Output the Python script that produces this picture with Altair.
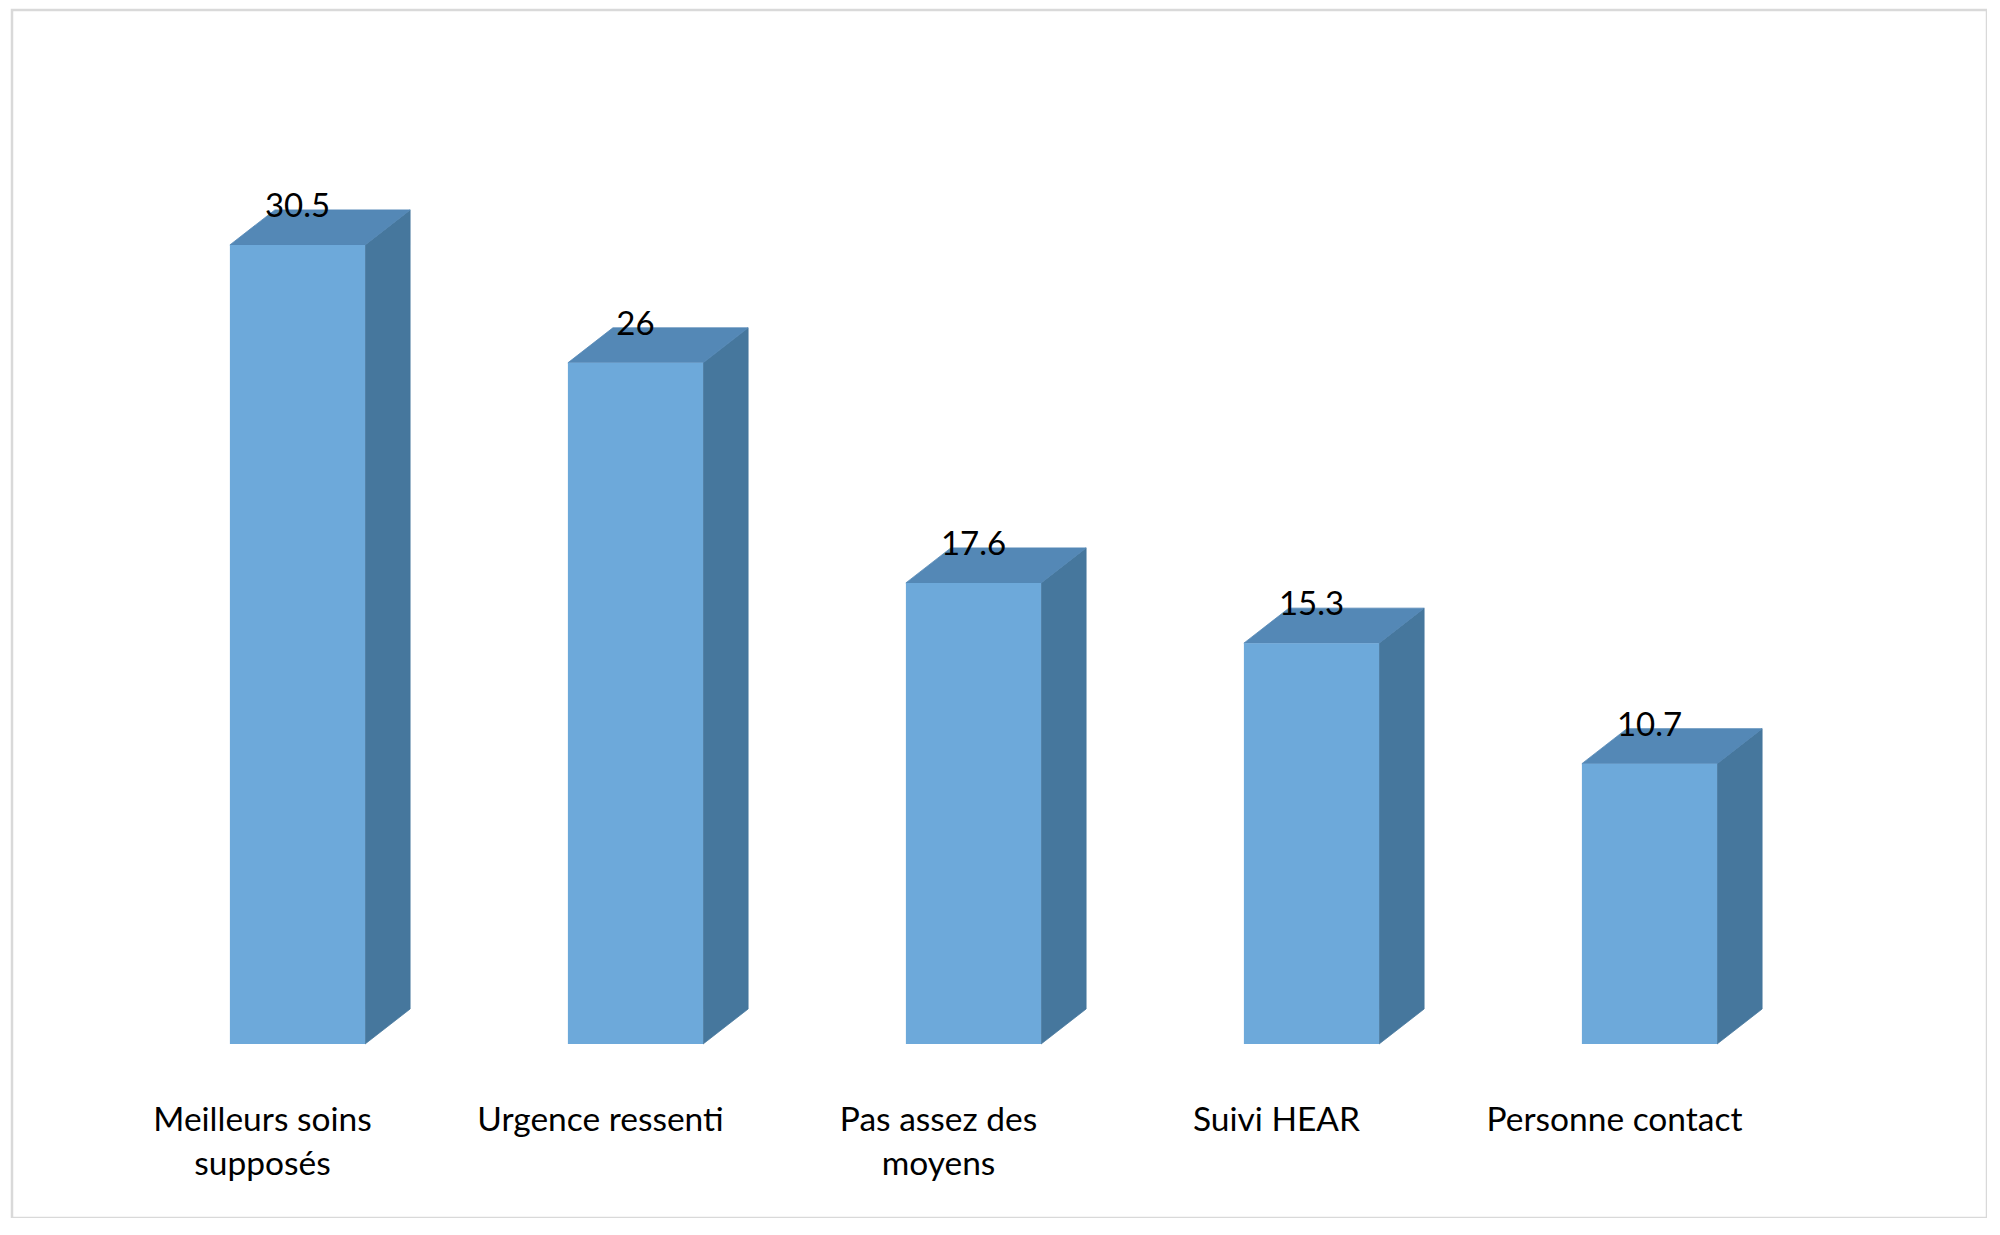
import altair as alt
import pandas as pd

# ---- data ----
categories = ["Meilleurs soins supposés", "Urgence ressenti", "Pas assez des moyens",
              "Suivi HEAR", "Personne contact"]
label_lines = [["Meilleurs soins", "supposés"], ["Urgence ressenti"],
               ["Pas assez des", "moyens"], ["Suivi HEAR"], ["Personne contact"]]
values = [30.5, 26, 17.6, 15.3, 10.7]
value_labels = ["30.5", "26", "17.6", "15.3", "10.7"]

# ---- geometry / style constants ----
SLOT_PX = 338.0          # pixels per category slot
PX_PER_UNIT = 26.2       # pixels per value unit
HALF = 0.2               # half width of the bar front (slot units)
DX = 45.0 / SLOT_PX      # 3D depth, horizontal (slot units)
DY = 35.0 / PX_PER_UNIT  # 3D depth, vertical (value units)
LABEL_SHIFT = -35.0 / SLOT_PX
LABEL_Y = -87.0 / PX_PER_UNIT

FRONT = "#6DA9DA"
TOP = "#5488B6"
SIDE = "#46779D"
FONT = "Lato"

PLOT_W, PLOT_H = 1975, 1208
ZERO_Y = 1034
xscale = alt.Scale(domain=[0, 5], range=[116.5, 116.5 + 5 * SLOT_PX])
yscale = alt.Scale(domain=[0, ZERO_Y / PX_PER_UNIT], range=[ZERO_Y, 0])

front_rows, side_rows, top_rows, lab_rows = [], [], [], []
for i, (c, v) in enumerate(zip(categories, values)):
    xl, xr = i + 0.5 - HALF, i + 0.5 + HALF
    front_rows.append(dict(cat=c, xl=xl, xr=xr, v=v, base=0.0,
                           xc=i + 0.5, lab=value_labels[i]))
    side_rows += [dict(cat=c, x=xr, top=v, bot=0.0),
                  dict(cat=c, x=xr + DX, top=v + DY, bot=DY)]
    top_rows += [dict(cat=c, y=v, xa=xl, xb=xr),
                 dict(cat=c, y=v + DY, xa=xl + DX, xb=xr + DX)]
    lab_rows.append(dict(cat=c, x=i + 0.5 + LABEL_SHIFT, y=LABEL_Y, text=label_lines[i]))

front_df = pd.DataFrame(front_rows)
side_df = pd.DataFrame(side_rows)
top_df = pd.DataFrame(top_rows)
lab_df = pd.DataFrame(lab_rows)

X = lambda f: alt.X(f, type="quantitative", scale=xscale, axis=None)
Y = lambda f: alt.Y(f, type="quantitative", scale=yscale, axis=None, stack=None)

side = alt.Chart(side_df).mark_area(color=SIDE, stroke=SIDE, strokeWidth=0.8,
                                    orient="vertical", clip=False).encode(
    x=X("x"), y=Y("top"), y2="bot", detail="cat:N")

top = alt.Chart(top_df).mark_area(color=TOP, stroke=TOP, strokeWidth=0.8,
                                  orient="horizontal", clip=False).encode(
    y=Y("y"), x=X("xa"), x2="xb", detail="cat:N")

front = alt.Chart(front_df).mark_rect(color=FRONT, clip=False).encode(
    x=X("xl"), x2="xr", y=Y("v"), y2="base")

vlabels = alt.Chart(front_df).mark_text(font=FONT, fontSize=33, color="#000000",
                                        baseline="alphabetic", align="center",
                                        dy=-28).encode(
    x=X("xc"), y=Y("v"), text="lab:N")

clabels = alt.Chart(lab_df).mark_text(font=FONT, fontSize=33.5, color="#000000",
                                      baseline="alphabetic", align="center",
                                      lineHeight=44).encode(
    x=X("x"), y=Y("y"), text="text")

chart = alt.layer(side, top, front, vlabels, clabels).properties(
    width=PLOT_W, height=PLOT_H,
    autosize=alt.AutoSizeParams(type="none"),
    padding={"left": 4, "top": 2, "right": 0, "bottom": 0},
    background="#ffffff",
).configure_view(stroke="#D9D9D9", strokeWidth=2.5)

chart.save("out.html", embed_options={"renderer": "svg", "actions": False})
